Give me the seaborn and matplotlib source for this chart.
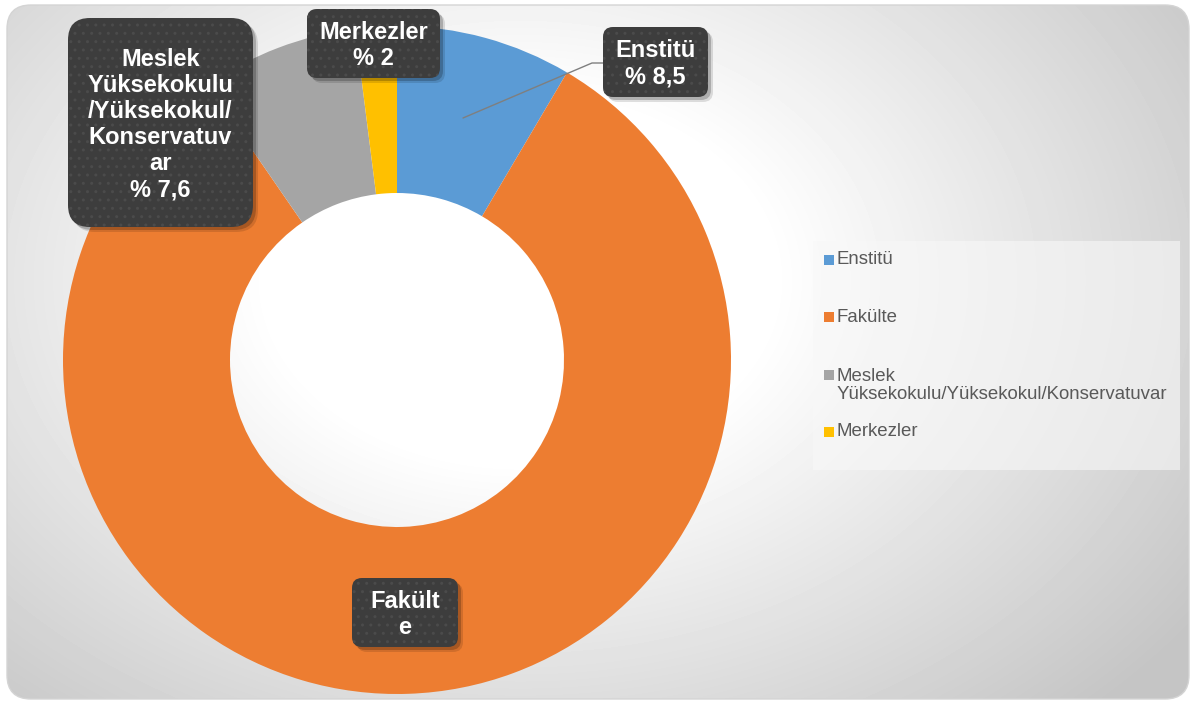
import numpy as np
import matplotlib.pyplot as plt
import seaborn as sns
from matplotlib.patches import FancyBboxPatch, Rectangle

# data
categories = ["Enstitü", "Fakülte", "Meslek Yüksekokulu/Yüksekokul/Konservatuvar", "Merkezler"]
shares = [8.5, 81.9, 7.6, 2.0]
legend_labels = ["Enstitü", "Fakülte", "Meslek\nYüksekokulu/Yüksekokul/Konservatuvar", "Merkezler"]
box_names = ["Enstitü", "Fakült\ne", "Meslek\nYüksekokulu\n/Yüksekokul/\nKonservatuv\nar", "Merkezler"]
show_pct = [True, False, True, True]
colors = sns.color_palette(["#5B9BD5", "#ED7D31", "#A5A5A5", "#FFC000"])

sns.set_theme(style="white")
plt.rcParams["font.family"] = ["Liberation Sans", "DejaVu Sans"]

W, H = 1196, 704
fig = plt.figure(figsize=(W / 100, H / 100), dpi=100)
fig.patch.set_facecolor("white")

# background with radial gradient inside a rounded frame
bg = fig.add_axes([0, 0, 1, 1], zorder=0)
bg.set_xlim(0, W)
bg.set_ylim(H, 0)
bg.axis("off")
yy, xx = np.mgrid[0:H, 0:W]
d = np.sqrt(((xx - 520) / 720) ** 2 + ((yy - 280) / 520) ** 2)
shade = 1 - 0.23 * np.clip((d - 0.35) / 0.8, 0, 1)
img = bg.imshow(shade, cmap="gray", vmin=0, vmax=1, extent=[0, W, H, 0],
                interpolation="bilinear", aspect="auto")
frame = FancyBboxPatch((7, 5), W - 14, H - 10, boxstyle="round,pad=0,rounding_size=24",
                       facecolor="none", edgecolor="#d4d4d4", lw=1)
bg.add_patch(frame)
img.set_clip_path(frame)

# donut
cx, cy, R = 397, 360, 334
pie_ax = fig.add_axes([(cx - R) / W, (H - cy - R) / H, 2 * R / W, 2 * R / H], zorder=1)
pie_ax.pie(shares, colors=colors, startangle=90, counterclock=False,
           wedgeprops=dict(width=0.5, edgecolor="none"))
pie_ax.set_xlim(-1, 1)
pie_ax.set_ylim(-1, 1)
pie_ax.set_aspect("equal")
pie_ax.axis("off")

# overlay for labels and legend (pixel coordinates)
ov = fig.add_axes([0, 0, 1, 1], zorder=2)
ov.set_xlim(0, W)
ov.set_ylim(H, 0)
ov.axis("off")
ov.patch.set_alpha(0)

# leader line for Enstitü
ov.plot([463, 592, 603], [118, 63, 63], color="#7f7f7f", lw=1, zorder=2)

boxes = [(603, 27, 105, 70, 10), (352, 578, 106, 69, 10),
         (68, 18, 185, 209, 22), (307, 9, 133, 69, 10)]
for name, val, pct, (x, y, w, h, r) in zip(box_names, shares, show_pct, boxes):
    for off, a in [(5, 0.12), (3, 0.2)]:
        ov.add_patch(FancyBboxPatch((x + off, y + off), w, h,
                                    boxstyle=f"round,pad=0,rounding_size={r}",
                                    facecolor="black", edgecolor="none", alpha=a, zorder=3))
    ov.add_patch(FancyBboxPatch((x, y), w, h, boxstyle=f"round,pad=0,rounding_size={r}",
                                facecolor="#3d3d3d", edgecolor="#4b4b4b", hatch="..",
                                lw=0, zorder=4))
    txt = name
    if pct:
        txt += "\n% " + f"{val:g}".replace(".", ",")
    ov.text(x + w / 2, y + h / 2 + 2, txt, ha="center", va="center", color="white",
            fontsize=17, fontweight="bold", linespacing=1.17, zorder=5)

# legend
ov.add_patch(FancyBboxPatch((813, 241), 367, 229, boxstyle="square,pad=0",
                            facecolor="#f8f8f8", edgecolor="none", alpha=0.6, zorder=3))
legend_y = [260, 317, 375, 432]
for lab, col, ly in zip(legend_labels, colors, legend_y):
    ov.add_patch(Rectangle((824, ly - 5), 10, 10, facecolor=col, edgecolor="none", zorder=4))
    n = lab.count("\n")
    ov.text(837, ly + n * 10.5, lab, ha="left", va="center", color="#595959",
            fontsize=13.4, linespacing=1.08, zorder=5)

fig.savefig("out.png", dpi=100)
